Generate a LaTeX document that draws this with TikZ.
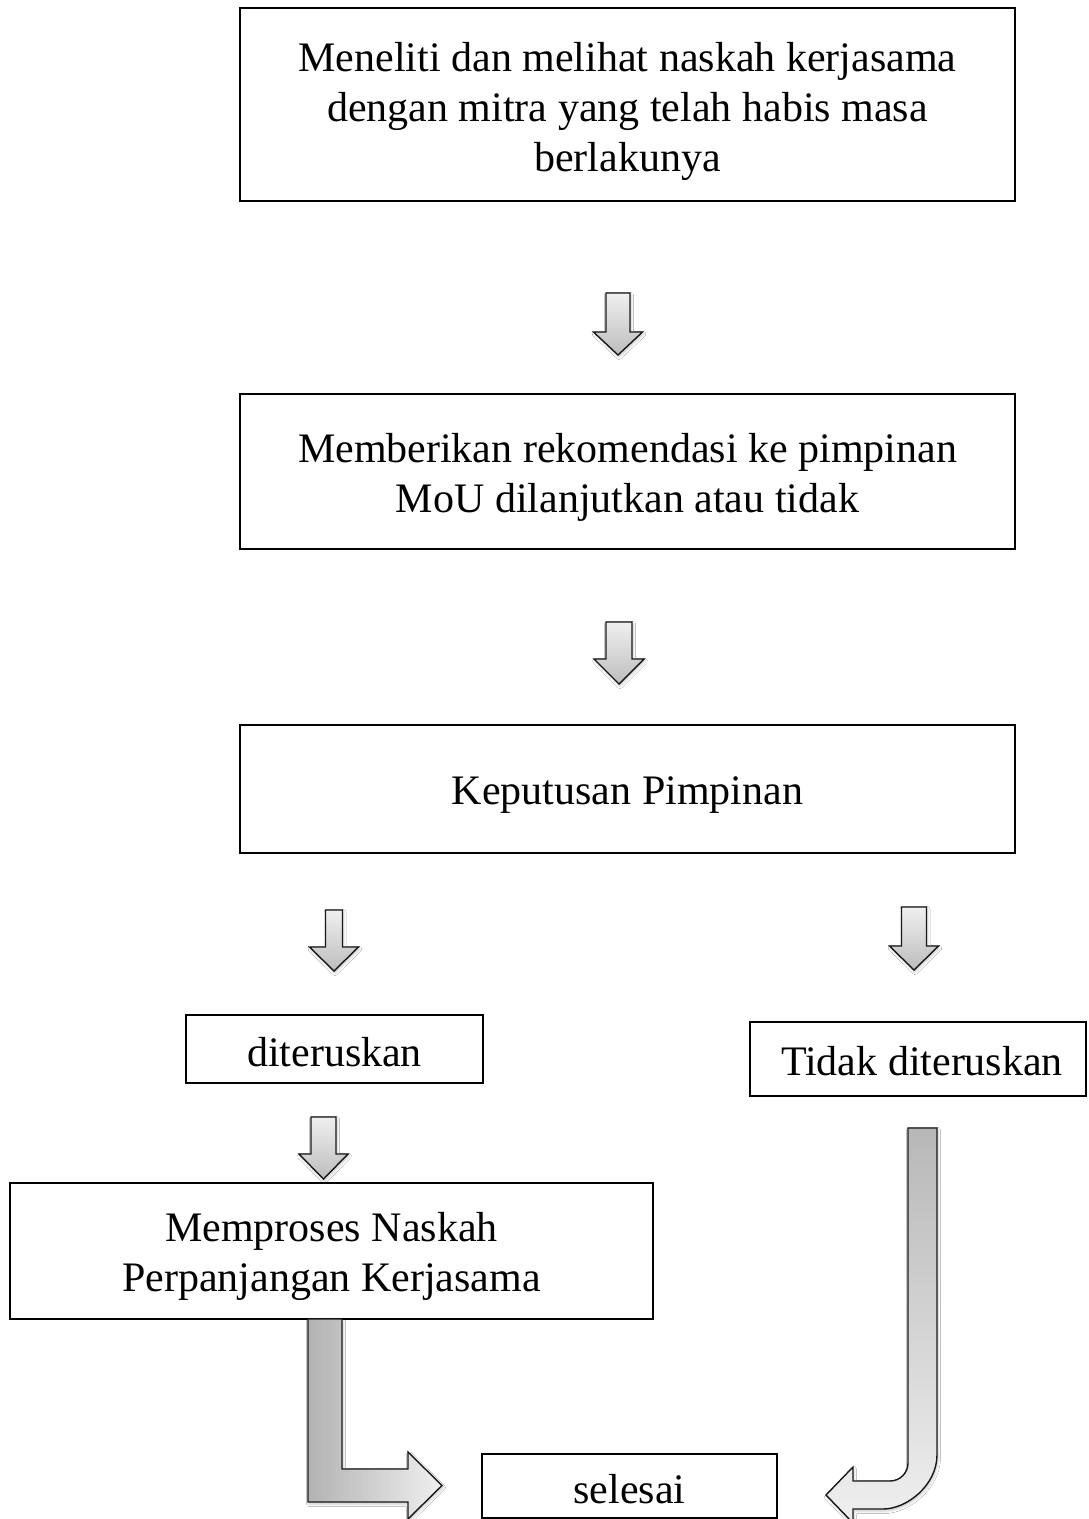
\documentclass[tikz,border=0pt]{standalone}
\usepackage{fontspec}
\setmainfont{Liberation Serif}
\usetikzlibrary{shadows.blur}
\newcommand\blockdown[6]{%
  \path[blockarr] (#1-#5,#2) -- (#1+#5,#2) -- (#1+#5,#3) -- (#1+#6,#3) -- (#1,#4) -- (#1-#6,#3) -- (#1-#5,#3) -- cycle;}
\begin{document}
\begin{tikzpicture}[x=1pt,y=-1pt,
  box/.style={draw=black, line width=2.2pt, fill=white, inner sep=0pt},
  txt/.style={inner sep=0pt, align=center, font=\fontsize{42}{50}\selectfont},
  arrshadow/.style={blur shadow={shadow xshift=1pt, shadow yshift=-2pt, shadow opacity=22, shadow blur radius=2.5pt}},
  blockarr/.style={draw=black!90, line width=1.4pt, line join=miter, top color=black!6, bottom color=black!26, arrshadow},
  bigarr/.style={draw=black!90, line width=1.4pt, line join=miter, arrshadow}
]
\useasboundingbox (0,0) rectangle (1088,1519);
\fill[white] (0,0) rectangle (1088,1519);

% boxes
\node[box, minimum width=775pt, minimum height=193pt] (b1) at (627.5,104.5) {};
\node[txt] (t1) at ([yshift=-7pt]b1.center)
  {Meneliti dan melihat naskah kerjasama\\dengan mitra yang telah habis masa\\berlakunya};
\node[box, minimum width=775pt, minimum height=155pt] (b2) at (627.5,471.5) {};
\node[txt] (t2) at ([yshift=-6pt]b2.center)
  {Memberikan rekomendasi ke pimpinan\\MoU dilanjutkan atau tidak};
\node[box, minimum width=775pt, minimum height=128pt] (b3) at (627.5,789) {};
\node[txt] (t3) at ([yshift=-6pt]b3.center) {Keputusan Pimpinan};
\node[box, minimum width=297pt, minimum height=68pt] (bd) at (334.5,1049) {};
\node[txt] (td) at ([yshift=-3pt]bd.center) {diteruskan};
\node[box, minimum width=336pt, minimum height=74pt] (bt) at (918,1059) {};
\node[txt] (tt) at ([xshift=4pt,yshift=-2pt]bt.center) {Tidak diteruskan};
\node[box, minimum width=643pt, minimum height=136pt] (bm) at (331.5,1251) {};
\node[txt] (tm) at ([yshift=-5pt]bm.center) {Memproses Naskah\\Perpanjangan Kerjasama};
\node[box, minimum width=295pt, minimum height=64pt] (bs) at (629.5,1486) {};
\node[txt] (ts) at ([yshift=-3pt]bs.center) {selesai};

% small down block arrows
\blockdown{618}{293}{332}{355}{12}{24.5}
\blockdown{619}{622}{659}{684}{13}{25}
\blockdown{334}{910}{947}{971}{8.5}{24.5}
\blockdown{914}{907}{946}{970}{12.5}{24.5}
\blockdown{323.5}{1117}{1154}{1179}{12.5}{24.5}

% L arrow from Memproses to selesai
\path[bigarr, left color=black!30, right color=black!6]
  (308,1319) -- (342,1319) -- (342,1469) -- (408,1469) -- (408,1452) -- (442,1485.5)
  -- (408,1519) -- (408,1502) -- (308,1502) -- cycle;

% J arrow from Tidak diteruskan to selesai
\path[bigarr, top color=black!28, bottom color=black!6]
  (908,1128) -- (937,1128) -- (937,1455) .. controls (937,1485) and (907,1509) .. (883,1509)
  -- (853,1509) -- (853,1523) -- (826,1495) -- (853,1467) -- (853,1481) -- (890,1481)
  .. controls (900,1481) and (908,1473) .. (908,1463) -- cycle;
\end{tikzpicture}
\end{document}
